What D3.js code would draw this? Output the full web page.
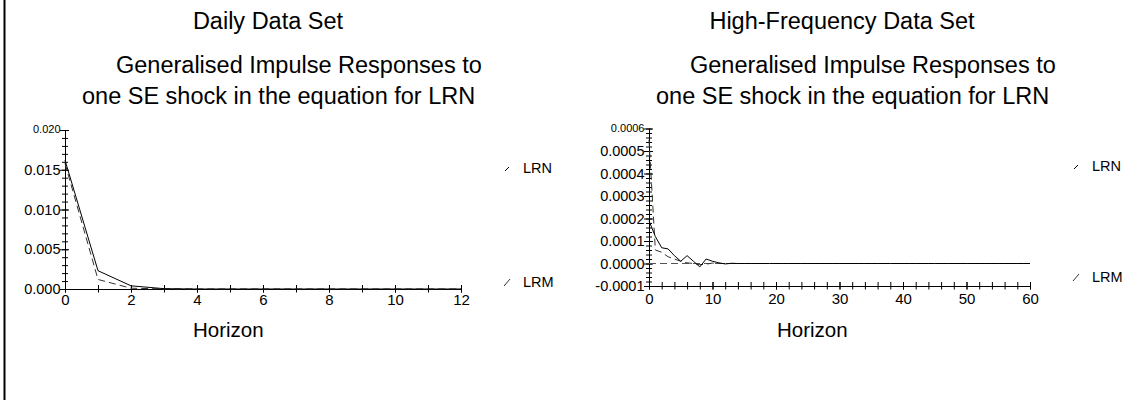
<!DOCTYPE html>
<html><head><meta charset="utf-8">
<script src="https://cdn.jsdelivr.net/npm/d3@7"></script>
<style>
html,body{margin:0;padding:0;background:#fff;}
svg{display:block;font-family:"Liberation Sans",Arial,sans-serif;}
</style></head>
<body>
<svg id="c" width="1148" height="400"></svg>
<script>
// ---- Data ----
const dailyHorizon = [0,1,2,3,4,5,6,7,8,9,10,11,12];
const dailyLRN = [0.0162,0.0023,0.0004,0.00004,0,0,0,0,0,0,0,0,0];
const dailyLRM = [0.0158,0.0012,0.0001,0.00001,0,0,0,0,0,0,0,0,0];
const dailyYTicks = [0.000,0.005,0.010,0.015,0.020];
const dailyXTicks = [0,2,4,6,8,10,12];

const hfHorizon = [0,1,2,3,4,5,6,7,8,9,10,11,12,13,14,15,16,17,18,19,20,21,22,23,24,25,26,27,28,29,30,
  31,32,33,34,35,36,37,38,39,40,41,42,43,44,45,46,47,48,49,50,51,52,53,54,55,56,57,58,59,60];
const hfLRN = [0.00019,0.00012,0.00007,0.000065,0.000035,0.00001,0.000035,0.00001,-0.000015,0.00002,0.00001,0.000003,-0.000002,0.000001,0,0,0,0,0,0,0,
  0,0,0,0,0,0,0,0,0,0,0,0,0,0,0,0,0,0,0,0,0,0,0,0,0,0,0,0,0,0,0,0,0,0,0,0,0,0,0,0];
const hfLRM = [0.00055,0.00006,0.00005,0.00003,0.00002,0.00001,0.000003,0,-0.000005,-0.000003,0.000002,0,0,0,0,0,0,0,0,0,0,
  0,0,0,0,0,0,0,0,0,0,0,0,0,0,0,0,0,0,0,0,0,0,0,0,0,0,0,0,0,0,0,0,0,0,0,0,0,0,0,0];
const hfYTicks = [-0.0001,0.0000,0.0001,0.0002,0.0003,0.0004,0.0005,0.0006];
const hfXTicks = [0,10,20,30,40,50,60];

const seriesNames = ["LRN","LRM"];
const titleTop = ["Daily Data Set","High-Frequency Data Set"];
const titleLine1 = "Generalised Impulse Responses to";
const titleLine2 = "one SE shock in the equation for LRN";
const xLabel = "Horizon";

const svg = d3.select("#c");
svg.append("rect").attr("x",0).attr("y",0).attr("width",1148).attr("height",400).attr("fill","#fff");
// left frame line
svg.append("line").attr("x1",4.5).attr("x2",4.5).attr("y1",0).attr("y2",400).attr("stroke","#000").attr("stroke-width",2);

const FONT = "Liberation Sans, Arial, sans-serif";

function panel(o){
  const g = svg.append("g");
  const x = d3.scaleLinear().domain(o.xDom).range(o.xRange);
  const y = d3.scaleLinear().domain(o.yDom).range(o.yRange);
  const ox = o.offset;
  // titles
  g.append("text").attr("x",ox+268).attr("y",29).attr("text-anchor","middle")
    .attr("font-size",23.5).text(o.title);
  g.append("text").attr("x",ox+116).attr("y",73).attr("font-size",23.5).text(titleLine1);
  g.append("text").attr("x",ox+82).attr("y",104).attr("font-size",23.5).text(titleLine2);

  // y minor ticks
  const yMinor = g.append("g").attr("transform",`translate(${o.xRange[0]},0)`)
    .call(d3.axisLeft(y).tickValues(o.yMinor).tickFormat("").tickSizeOuter(0));
  yMinor.select(".domain").remove();
  yMinor.selectAll(".tick line").attr("x1",-3).attr("x2",3).attr("stroke","#000");
  // y major
  const yAx = g.append("g").attr("transform",`translate(${o.xRange[0]},0)`)
    .call(d3.axisLeft(y).tickValues(o.yTicks).tickFormat(o.yFmt).tickSizeOuter(0));
  yAx.select(".domain").attr("stroke","#000").attr("d",`M0.5,${o.yRange[0]}V${o.yRange[1]}`);
  yAx.selectAll(".tick line").attr("x1",-5).attr("x2",4).attr("stroke","#000");
  yAx.selectAll(".tick text").attr("x",-4.5).attr("font-size",14.5).attr("font-family",FONT).attr("fill","#000");
  yAx.selectAll(".tick text").filter(d=>d===o.yDom[1]).attr("font-size",11).attr("dy","0.25em");

  // x axis
  const xAy = o.xAxisY;
  const xMin = g.append("g").attr("transform",`translate(0,${xAy})`)
    .call(d3.axisBottom(x).tickValues(o.xMinor).tickFormat("").tickSizeOuter(0));
  xMin.select(".domain").remove();
  xMin.selectAll(".tick line").attr("y1",-4).attr("y2",3.5).attr("stroke","#000");
  const xAx = g.append("g").attr("transform",`translate(0,${xAy})`)
    .call(d3.axisBottom(x).tickValues(o.xTicks).tickSizeOuter(0));
  xAx.select(".domain").attr("stroke","#000").attr("d",`M${o.xRange[0]},0.5H${o.xRange[1]}`);
  xAx.selectAll(".tick line").attr("y1",-4).attr("y2",3.5).attr("stroke","#000");
  xAx.selectAll(".tick text").attr("y",o.xLabY).attr("dy","0.71em").attr("font-size",15).attr("font-family",FONT).attr("fill","#000");

  g.append("text").attr("x",o.xRange[0]+128).attr("y",337).attr("font-size",20.5).text(xLabel);

  if(o.zeroLine){
    g.append("line").attr("x1",x(o.xDom[0])).attr("x2",x(o.xDom[1])).attr("y1",y(0)).attr("y2",y(0))
      .attr("stroke","#555").attr("stroke-dasharray","7,4").attr("stroke-width",1);
  }
  const line = d3.line().x((d,i)=>x(o.h[i])).y(d=>y(d));
  g.append("path").datum(o.s2).attr("d",line).attr("fill","none").attr("stroke","#333")
    .attr("stroke-width",1).attr("stroke-dasharray","7,4");
  g.append("path").datum(o.s1).attr("d",line).attr("fill","none").attr("stroke","#000").attr("stroke-width",1);

  // legend
  const lx = o.xRange[1]+44;
  g.append("line").attr("x1",lx).attr("x2",lx+4).attr("y1",o.legY[0]+3).attr("y2",o.legY[0]-1).attr("stroke","#000");
  g.append("text").attr("x",lx+18).attr("y",o.legY[0]).attr("dy","0.35em").attr("font-size",14.5).text(seriesNames[0]);
  g.append("line").attr("x1",lx-1).attr("x2",lx+5).attr("y1",o.legY[1]+4).attr("y2",o.legY[1]-3).attr("stroke","#333");
  g.append("text").attr("x",lx+18).attr("y",o.legY[1]).attr("dy","0.35em").attr("font-size",14.5).text(seriesNames[1]);
}

const fmt = p => v => v.toFixed(p);

panel({offset:0, title:titleTop[0], xDom:[0,12], xRange:[65,461], yDom:[0,0.02], yRange:[289,130],
  yTicks:dailyYTicks, yMinor:d3.range(0,0.02001,0.001), yFmt:fmt(3),
  xTicks:dailyXTicks, xMinor:d3.range(0,12.01,1), xAxisY:289, xLabY:5, h:dailyHorizon, s1:dailyLRN, s2:dailyLRM,
  legY:[168,282], zeroLine:false});
panel({offset:574, title:titleTop[1], xDom:[0,60], xRange:[649,1030], yDom:[-0.0001,0.0006], yRange:[286,128.5],
  yTicks:hfYTicks, yMinor:d3.range(-0.0001,0.000601,0.00002), yFmt:fmt(4),
  xTicks:hfXTicks, xMinor:d3.range(0,60.01,2), xAxisY:286, xLabY:7, h:hfHorizon, s1:hfLRN, s2:hfLRM,
  legY:[166,277], zeroLine:true});
</script>
</body></html>
